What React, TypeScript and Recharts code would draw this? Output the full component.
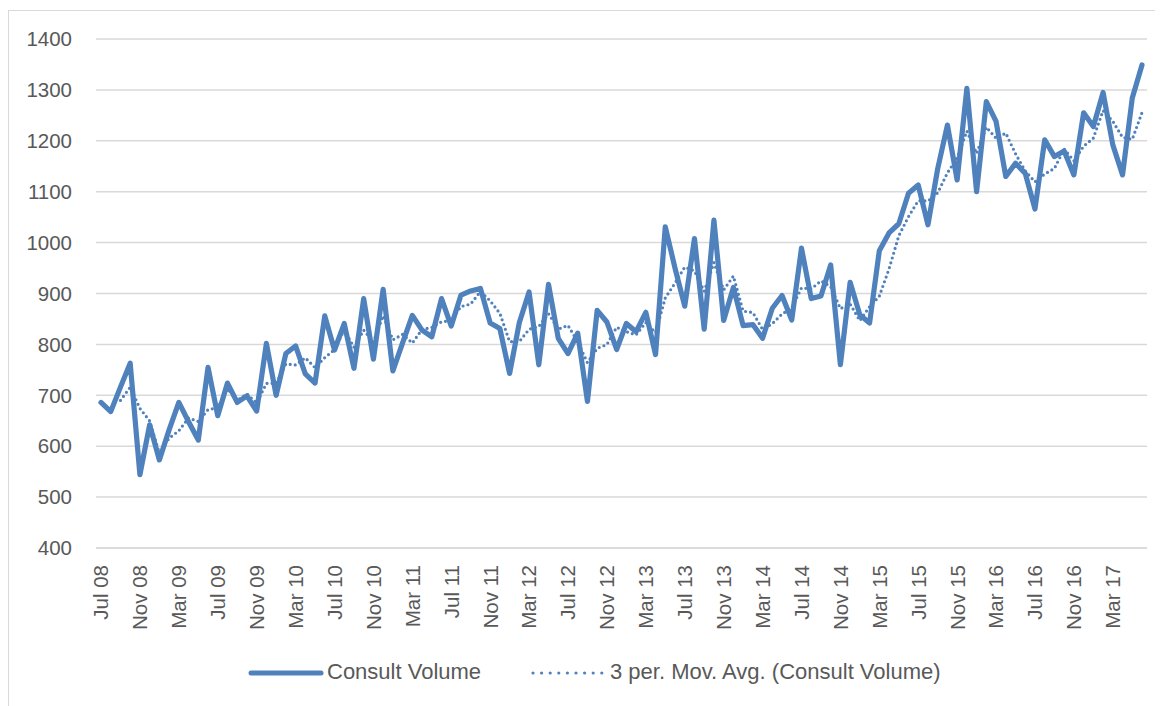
import React from "react";
import { LineChart, Line, XAxis, YAxis, CartesianGrid, Legend } from "recharts";

const months: string[] = [
  "Jul 08", "Aug 08", "Sep 08", "Oct 08", "Nov 08", "Dec 08",
  "Jan 09", "Feb 09", "Mar 09", "Apr 09", "May 09", "Jun 09", "Jul 09", "Aug 09", "Sep 09", "Oct 09", "Nov 09", "Dec 09",
  "Jan 10", "Feb 10", "Mar 10", "Apr 10", "May 10", "Jun 10", "Jul 10", "Aug 10", "Sep 10", "Oct 10", "Nov 10", "Dec 10",
  "Jan 11", "Feb 11", "Mar 11", "Apr 11", "May 11", "Jun 11", "Jul 11", "Aug 11", "Sep 11", "Oct 11", "Nov 11", "Dec 11",
  "Jan 12", "Feb 12", "Mar 12", "Apr 12", "May 12", "Jun 12", "Jul 12", "Aug 12", "Sep 12", "Oct 12", "Nov 12", "Dec 12",
  "Jan 13", "Feb 13", "Mar 13", "Apr 13", "May 13", "Jun 13", "Jul 13", "Aug 13", "Sep 13", "Oct 13", "Nov 13", "Dec 13",
  "Jan 14", "Feb 14", "Mar 14", "Apr 14", "May 14", "Jun 14", "Jul 14", "Aug 14", "Sep 14", "Oct 14", "Nov 14", "Dec 14",
  "Jan 15", "Feb 15", "Mar 15", "Apr 15", "May 15", "Jun 15", "Jul 15", "Aug 15", "Sep 15", "Oct 15", "Nov 15", "Dec 15",
  "Jan 16", "Feb 16", "Mar 16", "Apr 16", "May 16", "Jun 16", "Jul 16", "Aug 16", "Sep 16", "Oct 16", "Nov 16", "Dec 16",
  "Jan 17", "Feb 17", "Mar 17", "Apr 17", "May 17", "Jun 17",
];

const consultVolume: number[] = [
  686, 668, 716, 763, 544, 642,
  573, 632, 686, 648, 612, 755, 660, 724, 686, 699, 669, 802,
  700, 782, 797, 742, 724, 856, 789, 841, 753, 890, 771, 908,
  748, 803, 857, 828, 815, 890, 836, 897, 905, 910, 842, 831,
  743, 843, 903, 760, 918, 812, 782, 822, 688, 867, 844, 790,
  841, 825, 863, 780, 1031, 950, 875, 1008, 830, 1044, 847, 912,
  837, 839, 812, 871, 896, 848, 989, 890, 895, 956, 760, 922,
  858, 842, 984, 1019, 1037, 1097, 1113, 1035, 1145, 1231, 1123, 1303,
  1100, 1277, 1238, 1130, 1156, 1136, 1066, 1202, 1169, 1180, 1133, 1255,
  1228, 1295, 1192, 1133, 1284, 1349,
];

const yTicks: number[] = [400, 500, 600, 700, 800, 900, 1000, 1100, 1200, 1300, 1400];

const seriesName = "Consult Volume";
const trendName = "3 per. Mov. Avg. (Consult Volume)";
const MA_PERIOD = 3;

// Excel-style moving-average trendline of the series above
const chartData = months.map((m, i) => {
  let ma: number | null = null;
  if (i >= MA_PERIOD - 1) {
    let s = 0;
    for (let k = i - MA_PERIOD + 1; k <= i; k++) s += consultVolume[k];
    ma = s / MA_PERIOD;
  }
  return { month: m, volume: consultVolume[i], ma };
});

const BLUE = "#4F81BD";
const TEXT = "#595959";
const GRID = "#D9D9D9";
const FONT = "'Liberation Sans', Arial, sans-serif";

const XTick = (props: any) => {
  const { x, y, payload } = props;
  return (
    <g transform={`translate(${x},${y})`}>
      <text
        transform="rotate(-90)"
        x={-17}
        y={0}
        dy="0.36em"
        textAnchor="end"
        fill={TEXT}
        fontSize={20.5}
        fontFamily={FONT}
      >
        {payload.value}
      </text>
    </g>
  );
};

const LegendContent = () => (
  <div style={{ position: "relative", width: 1154, height: 30, fontFamily: FONT, fontSize: 22, color: TEXT }}>
    <svg style={{ position: "absolute", left: 239, top: 8 }} width={76} height={14}>
      <line x1={3} y1={7} x2={73} y2={7} stroke={BLUE} strokeWidth={5} strokeLinecap="round" />
    </svg>
    <span style={{ position: "absolute", left: 318, top: 1, whiteSpace: "nowrap", lineHeight: "26px" }}>{seriesName}</span>
    <svg style={{ position: "absolute", left: 521, top: 8 }} width={76} height={14}>
      <line x1={3} y1={7} x2={73} y2={7} stroke={BLUE} strokeWidth={3.2} strokeLinecap="round" strokeDasharray="0 8.6" />
    </svg>
    <span style={{ position: "absolute", left: 601, top: 1, whiteSpace: "nowrap", lineHeight: "26px" }}>{trendName}</span>
  </div>
);

export default function App() {
  return (
    <div
      style={{
        width: 1154,
        height: 695,
        marginTop: 2,
        borderTop: `1px solid ${GRID}`,
        borderLeft: `1px solid ${GRID}`,
        background: "#fff",
        fontFamily: FONT,
      }}
    >
      <LineChart
        width={1154}
        height={695}
        data={chartData}
        margin={{ top: 28, right: 16, bottom: 58, left: 0 }}
      >
        <CartesianGrid vertical={false} stroke={GRID} strokeWidth={1.5} />
        <XAxis
          dataKey="month"
          interval={3}
          tick={<XTick />}
          tickLine={false}
          tickSize={0}
          tickMargin={0}
          height={100}
          padding={{ left: 5, right: 5 }}
          axisLine={{ stroke: GRID, strokeWidth: 1.5 }}
        />
        <YAxis
          domain={[400, 1400]}
          ticks={yTicks}
          width={87}
          axisLine={false}
          tickLine={false}
          tickSize={0}
          tickMargin={24}
          tick={{ fill: TEXT, fontSize: 20.5, fontFamily: FONT }}
          allowDataOverflow
        />
        <Legend
          verticalAlign="middle"
          layout="horizontal"
          wrapperStyle={{ top: 647, left: 0, width: 1154 }}
          content={<LegendContent />}
        />
        <Line
          type="linear"
          dataKey="volume"
          name={seriesName}
          stroke={BLUE}
          strokeWidth={5.2}
          strokeLinejoin="round"
          strokeLinecap="round"
          dot={false}
          activeDot={false}
          isAnimationActive={false}
        />
        <Line
          type="linear"
          dataKey="ma"
          name={trendName}
          stroke={BLUE}
          strokeWidth={3.2}
          strokeLinecap="round"
          strokeDasharray="0 5"
          dot={false}
          activeDot={false}
          connectNulls={false}
          isAnimationActive={false}
        />
      </LineChart>
    </div>
  );
}
